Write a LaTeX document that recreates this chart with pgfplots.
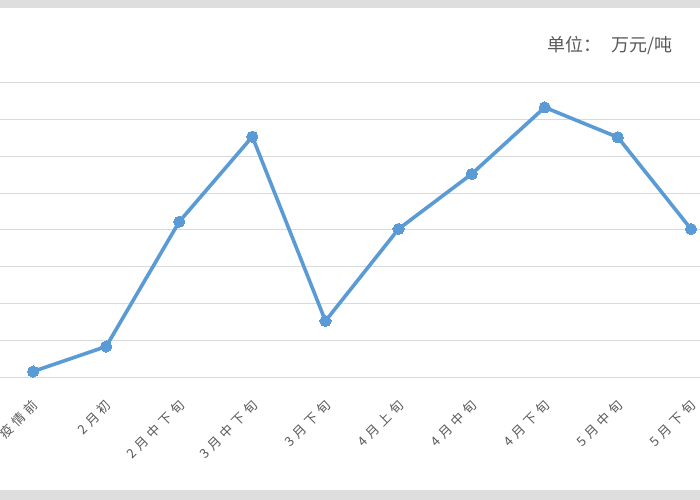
\documentclass[border=0pt]{standalone}
\usepackage{pgfplots}
\pgfplotsset{compat=1.18}
\usepackage{fontspec}
\setmainfont{Noto Sans CJK SC}
\definecolor{lineblue}{HTML}{5B9BD5}
\definecolor{labelgray}{HTML}{595959}
\definecolor{gridgray}{HTML}{D9D9D9}
\definecolor{bandgray}{HTML}{DEDEDE}
\begin{document}
\begin{tikzpicture}[x=1bp,y=1bp]
\useasboundingbox (0,0) rectangle (700,500);
\begin{scope}
\clip (0,0) rectangle (700,500);
\fill[white] (0,0) rectangle (700,500);
\fill[bandgray] (0,492) rectangle (700,500);
\fill[bandgray] (0,0) rectangle (700,10);
\node[anchor=east, text=labelgray, font=\fontsize{18bp}{19bp}\selectfont, inner sep=0pt] at (673,455) {单位：\hspace{0.55em}万元/吨};
\begin{axis}[
  at={(-3.5bp,122.8bp)}, anchor=south west,
  scale only axis, width=731bp, height=294.5bp,
  xmin=-0.5, xmax=9.5, ymin=0, ymax=8,
  axis line style={draw=none},
  major tick length=0pt,
  ytick={0,1,...,8}, yticklabels={},
  ymajorgrids, grid style={gridgray, line width=1.1bp},
  xtick={0,...,9},
  xticklabels={疫情前,2月初,2月中下旬,3月中下旬,3月下旬,4月上旬,4月中旬,4月下旬,5月中旬,5月下旬},
  xticklabel style={text=labelgray, font=\fontsize{13bp}{13bp}\selectfont\addfontfeature{LetterSpace=30}, xshift=5bp, yshift=-23bp, rotate=45, anchor=east},
  clip=false,
]
\addplot[lineblue, line width=3.6bp, mark=*, mark size=5.6bp, mark options={fill=lineblue, draw=lineblue, line width=0pt}] coordinates {
(0,0.155) (1,0.834) (2,4.224) (3,6.534) (4,1.527) (5,4.026) (6,5.52) (7,7.33) (8,6.517) (9,4.026)
};
\end{axis}
\end{scope}
\end{tikzpicture}
\end{document}
